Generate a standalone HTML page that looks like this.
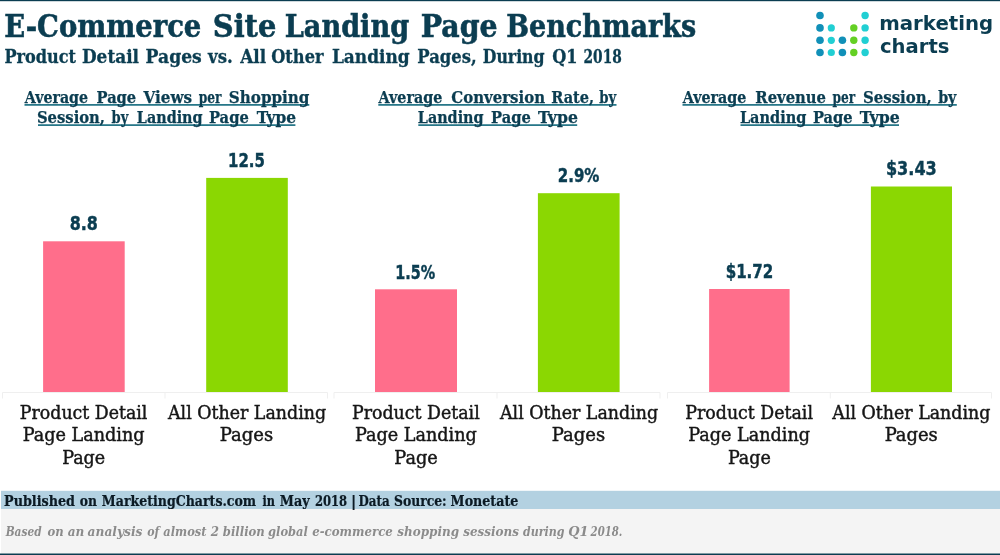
<!DOCTYPE html>
<html lang="en">
<head>
<meta charset="utf-8">
<title>E-Commerce Site Landing Page Benchmarks</title>
<style>
html,body{margin:0;padding:0;background:#fff;}
body{width:1000px;height:555px;overflow:hidden;}
svg{display:block;}
.slab{font-family:"DejaVu Serif Condensed","DejaVu Serif","Liberation Serif",serif;font-stretch:condensed;}
.b{font-weight:bold;}
.teal{fill:#0b3d51;}
.sk1{stroke:#0b3d51;stroke-width:0.55px;}
.sk2{stroke:#0b3d51;stroke-width:0.3px;}
.sans{font-family:"DejaVu Sans","Liberation Sans",sans-serif;font-weight:bold;}
.cat{fill:#161616;stroke:#161616;stroke-width:0.4px;}
.val{font-family:"DejaVu Sans Condensed","DejaVu Sans","Liberation Sans",sans-serif;font-stretch:condensed;font-weight:bold;fill:#0b3d51;stroke:#0b3d51;stroke-width:0.4px;}
.hd{font-weight:bold;fill:#0b3d51;stroke:#0b3d51;stroke-width:0.25px;}
.ft1{fill:#0b1a24;stroke:#0b1a24;stroke-width:0.2px;}
.ft2{fill:#8b8b8b;}
</style>
</head>
<body>
<svg width="1000" height="555" viewBox="0 0 1000 555">

<rect x="0" y="0" width="1000" height="555" fill="#ffffff"/>
<rect x="0" y="0" width="1000" height="1.2" fill="#0b3d51"/>
<g id="logo">
<g fill="#1190b8">
<circle cx="820" cy="15.5" r="3.8"/><circle cx="820" cy="27.9" r="3.8"/><circle cx="820" cy="40.3" r="3.8"/><circle cx="820" cy="52.5" r="3.8"/>
<circle cx="842.4" cy="40.3" r="3.8"/><circle cx="842.4" cy="52.5" r="3.8"/>
</g>
<g fill="#21cfd3">
<circle cx="831.3" cy="27.9" r="3.6"/><circle cx="831.3" cy="40.3" r="3.6"/><circle cx="831.3" cy="52.5" r="3.6"/>
<circle cx="865.1" cy="15.5" r="3.7"/><circle cx="865.1" cy="27.9" r="3.7"/><circle cx="865.1" cy="40.3" r="3.7"/><circle cx="865.1" cy="52.5" r="3.7"/>
</g>
<g fill="#64d024">
<circle cx="853.8" cy="27.9" r="3.7"/><circle cx="853.8" cy="40.3" r="3.7"/><circle cx="853.8" cy="52.5" r="3.7"/>
</g>
</g>
<g fill="#10697c">
<rect x="24.5" y="104.1" width="284.8" height="1.6"/>
<rect x="38" y="124.3" width="257.4" height="1.6"/>
<rect x="378.3" y="104.1" width="238.2" height="1.6"/>
<rect x="418.3" y="124.3" width="158.9" height="1.6"/>
<rect x="682.5" y="104.1" width="274.3" height="1.6"/>
<rect x="740.5" y="124.3" width="158.5" height="1.6"/>
</g>
<g stroke="#efefef" stroke-width="1" fill="none">
<path d="M2.5 398.5V392.5H327.5V398.5M165 392.5V398.5"/>
<path d="M334 398.5V392.5H660V398.5M497 392.5V398.5"/>
<path d="M667.5 398.5V392.5H991.5V398.5M830.3 392.5V398.5"/>
</g>
<g fill="#ff6e8b">
<rect x="43.1" y="241.3" width="81.6" height="150.7"/>
<rect x="375" y="289.3" width="82" height="102.7"/>
<rect x="709.1" y="289" width="80.5" height="103"/>
</g>
<g fill="#8bd702">
<rect x="206.2" y="177.9" width="81.6" height="214.1"/>
<rect x="537.9" y="193.2" width="81.7" height="198.8"/>
<rect x="870.9" y="186.5" width="81.1" height="205.5"/>
</g>
<rect x="1" y="490.8" width="999" height="18.2" fill="#b3d1e1"/>
<rect x="1" y="509" width="999" height="44.6" fill="#f4f4f4"/>
<rect x="0" y="553.5" width="1000" height="1.5" fill="#0b3d51"/>
<text class="slab b teal sk1" y="37" font-size="32" ><tspan x="4.18" textLength="197.14" lengthAdjust="spacingAndGlyphs">E-Commerce</tspan> <tspan x="212.79" textLength="63.56" lengthAdjust="spacingAndGlyphs">Site</tspan> <tspan x="284.72" textLength="124.39" lengthAdjust="spacingAndGlyphs">Landing</tspan> <tspan x="420.79" textLength="76.84" lengthAdjust="spacingAndGlyphs">Page</tspan> <tspan x="506.23" textLength="189.93" lengthAdjust="spacingAndGlyphs">Benchmarks</tspan></text>
<text class="slab b teal sk2" y="63" font-size="18.7" ><tspan x="4.42" textLength="71.65" lengthAdjust="spacingAndGlyphs">Product</tspan> <tspan x="81.95" textLength="57.09" lengthAdjust="spacingAndGlyphs">Detail</tspan> <tspan x="145.64" textLength="56.15" lengthAdjust="spacingAndGlyphs">Pages</tspan> <tspan x="208.10" textLength="24.63" lengthAdjust="spacingAndGlyphs">vs.</tspan> <tspan x="240.20" textLength="25.89" lengthAdjust="spacingAndGlyphs">All</tspan> <tspan x="271.26" textLength="52.25" lengthAdjust="spacingAndGlyphs">Other</tspan> <tspan x="331.95" textLength="77.79" lengthAdjust="spacingAndGlyphs">Landing</tspan> <tspan x="417.34" textLength="59.37" lengthAdjust="spacingAndGlyphs">Pages,</tspan> <tspan x="482.74" textLength="61.83" lengthAdjust="spacingAndGlyphs">During</tspan> <tspan x="552.28" textLength="25.34" lengthAdjust="spacingAndGlyphs">Q1</tspan> <tspan x="583.54" textLength="38.23" lengthAdjust="spacingAndGlyphs">2018</tspan></text>
<text class="sans teal" x="879.15" y="30" font-size="18.8"  textLength="114.04" lengthAdjust="spacingAndGlyphs">marketing</text>
<text class="sans teal" x="880.00" y="53" font-size="18.8"  textLength="69.45" lengthAdjust="spacingAndGlyphs">charts</text>
<text class="slab hd" y="103" font-size="16.2" ><tspan x="24.84" textLength="63.20" lengthAdjust="spacingAndGlyphs">Average</tspan> <tspan x="96.55" textLength="39.64" lengthAdjust="spacingAndGlyphs">Page</tspan> <tspan x="143.54" textLength="48.52" lengthAdjust="spacingAndGlyphs">Views</tspan> <tspan x="198.78" textLength="22.79" lengthAdjust="spacingAndGlyphs">per</tspan> <tspan x="228.85" textLength="80.59" lengthAdjust="spacingAndGlyphs">Shopping</tspan></text>
<text class="slab hd" y="123" font-size="16.2" ><tspan x="36.94" textLength="68.09" lengthAdjust="spacingAndGlyphs">Session,</tspan> <tspan x="111.57" textLength="16.73" lengthAdjust="spacingAndGlyphs">by</tspan> <tspan x="136.80" textLength="65.79" lengthAdjust="spacingAndGlyphs">Landing</tspan> <tspan x="209.03" textLength="39.73" lengthAdjust="spacingAndGlyphs">Page</tspan> <tspan x="256.85" textLength="39.11" lengthAdjust="spacingAndGlyphs">Type</tspan></text>
<text class="slab hd" y="103" font-size="16.2" ><tspan x="378.58" textLength="63.77" lengthAdjust="spacingAndGlyphs">Average</tspan> <tspan x="451.33" textLength="93.68" lengthAdjust="spacingAndGlyphs">Conversion</tspan> <tspan x="551.24" textLength="42.92" lengthAdjust="spacingAndGlyphs">Rate,</tspan> <tspan x="599.15" textLength="16.97" lengthAdjust="spacingAndGlyphs">by</tspan></text>
<text class="slab hd" y="123" font-size="16.2" ><tspan x="417.79" textLength="65.81" lengthAdjust="spacingAndGlyphs">Landing</tspan> <tspan x="491.12" textLength="39.71" lengthAdjust="spacingAndGlyphs">Page</tspan> <tspan x="538.12" textLength="39.73" lengthAdjust="spacingAndGlyphs">Type</tspan></text>
<text class="slab hd" y="103" font-size="16.2" ><tspan x="682.84" textLength="63.58" lengthAdjust="spacingAndGlyphs">Average</tspan> <tspan x="755.38" textLength="70.64" lengthAdjust="spacingAndGlyphs">Revenue</tspan> <tspan x="832.61" textLength="22.67" lengthAdjust="spacingAndGlyphs">per</tspan> <tspan x="862.99" textLength="68.80" lengthAdjust="spacingAndGlyphs">Session,</tspan> <tspan x="938.15" textLength="18.26" lengthAdjust="spacingAndGlyphs">by</tspan></text>
<text class="slab hd" y="123" font-size="16.2" ><tspan x="739.91" textLength="66.42" lengthAdjust="spacingAndGlyphs">Landing</tspan> <tspan x="813.04" textLength="39.60" lengthAdjust="spacingAndGlyphs">Page</tspan> <tspan x="859.88" textLength="40.01" lengthAdjust="spacingAndGlyphs">Type</tspan></text>
<text class="slab val" x="69.73" y="230" font-size="18.8"  textLength="28.19" lengthAdjust="spacingAndGlyphs">8.8</text>
<text class="slab val" x="228.04" y="167" font-size="18.8"  textLength="36.94" lengthAdjust="spacingAndGlyphs">12.5</text>
<text class="slab val" x="395.33" y="279" font-size="18.8"  textLength="39.97" lengthAdjust="spacingAndGlyphs">1.5%</text>
<text class="slab val" x="557.71" y="182" font-size="18.8"  textLength="41.71" lengthAdjust="spacingAndGlyphs">2.9%</text>
<text class="slab val" x="725.67" y="278" font-size="18.8"  textLength="47.65" lengthAdjust="spacingAndGlyphs">$1.72</text>
<text class="slab val" x="885.92" y="175" font-size="18.8"  textLength="50.86" lengthAdjust="spacingAndGlyphs">$3.43</text>
<text class="slab cat" x="19.85" y="419" font-size="17.7"  textLength="127.52" lengthAdjust="spacingAndGlyphs">Product Detail</text>
<text class="slab cat" x="22.75" y="441" font-size="17.7"  textLength="121.84" lengthAdjust="spacingAndGlyphs">Page Landing</text>
<text class="slab cat" x="62.26" y="464" font-size="17.7"  textLength="42.92" lengthAdjust="spacingAndGlyphs">Page</text>
<text class="slab cat" x="168.05" y="419" font-size="17.7"  textLength="157.99" lengthAdjust="spacingAndGlyphs">All Other Landing</text>
<text class="slab cat" x="219.89" y="441" font-size="17.7"  textLength="53.30" lengthAdjust="spacingAndGlyphs">Pages</text>
<text class="slab cat" x="352.03" y="419" font-size="17.7"  textLength="127.71" lengthAdjust="spacingAndGlyphs">Product Detail</text>
<text class="slab cat" x="355.12" y="441" font-size="17.7"  textLength="121.75" lengthAdjust="spacingAndGlyphs">Page Landing</text>
<text class="slab cat" x="394.39" y="464" font-size="17.7"  textLength="43.34" lengthAdjust="spacingAndGlyphs">Page</text>
<text class="slab cat" x="500.05" y="419" font-size="17.7"  textLength="157.99" lengthAdjust="spacingAndGlyphs">All Other Landing</text>
<text class="slab cat" x="551.89" y="441" font-size="17.7"  textLength="53.30" lengthAdjust="spacingAndGlyphs">Pages</text>
<text class="slab cat" x="685.33" y="419" font-size="17.7"  textLength="127.65" lengthAdjust="spacingAndGlyphs">Product Detail</text>
<text class="slab cat" x="688.35" y="441" font-size="17.7"  textLength="121.65" lengthAdjust="spacingAndGlyphs">Page Landing</text>
<text class="slab cat" x="727.92" y="464" font-size="17.7"  textLength="42.89" lengthAdjust="spacingAndGlyphs">Page</text>
<text class="slab cat" x="832.38" y="419" font-size="17.7"  textLength="157.98" lengthAdjust="spacingAndGlyphs">All Other Landing</text>
<text class="slab cat" x="884.71" y="441" font-size="17.7"  textLength="53.11" lengthAdjust="spacingAndGlyphs">Pages</text>
<text class="slab b ft1" y="506" font-size="14" ><tspan x="4.05" textLength="70.97" lengthAdjust="spacingAndGlyphs">Published</tspan> <tspan x="79.84" textLength="17.20" lengthAdjust="spacingAndGlyphs">on</tspan> <tspan x="101.83" textLength="154.32" lengthAdjust="spacingAndGlyphs">MarketingCharts.com</tspan> <tspan x="262.50" textLength="12.49" lengthAdjust="spacingAndGlyphs">in</tspan> <tspan x="279.84" textLength="29.88" lengthAdjust="spacingAndGlyphs">May</tspan> <tspan x="314.94" textLength="32.21" lengthAdjust="spacingAndGlyphs">2018</tspan> <tspan x="350.93" textLength="5.27" lengthAdjust="spacingAndGlyphs">|</tspan> <tspan x="358.50" textLength="31.31" lengthAdjust="spacingAndGlyphs">Data</tspan> <tspan x="393.96" textLength="52.74" lengthAdjust="spacingAndGlyphs">Source:</tspan> <tspan x="450.64" textLength="67.72" lengthAdjust="spacingAndGlyphs">Monetate</tspan></text>
<text class="slab b ft2" y="536" font-size="12.5" font-style="italic"><tspan x="5.63" textLength="35.99" lengthAdjust="spacingAndGlyphs">Based</tspan> <tspan x="47.49" textLength="16.13" lengthAdjust="spacingAndGlyphs">on</tspan> <tspan x="67.80" textLength="16.58" lengthAdjust="spacingAndGlyphs">an</tspan> <tspan x="87.64" textLength="54.84" lengthAdjust="spacingAndGlyphs">analysis</tspan> <tspan x="147.20" textLength="12.07" lengthAdjust="spacingAndGlyphs">of</tspan> <tspan x="163.27" textLength="43.25" lengthAdjust="spacingAndGlyphs">almost</tspan> <tspan x="210.72" textLength="8.24" lengthAdjust="spacingAndGlyphs">2</tspan> <tspan x="222.86" textLength="41.87" lengthAdjust="spacingAndGlyphs">billion</tspan> <tspan x="268.13" textLength="39.73" lengthAdjust="spacingAndGlyphs">global</tspan> <tspan x="312.24" textLength="80.58" lengthAdjust="spacingAndGlyphs">e-commerce</tspan> <tspan x="397.36" textLength="61.72" lengthAdjust="spacingAndGlyphs">shopping</tspan> <tspan x="463.28" textLength="55.75" lengthAdjust="spacingAndGlyphs">sessions</tspan> <tspan x="523.11" textLength="41.38" lengthAdjust="spacingAndGlyphs">during</tspan> <tspan x="568.19" textLength="20.24" lengthAdjust="spacingAndGlyphs">Q1</tspan> <tspan x="590.58" textLength="31.78" lengthAdjust="spacingAndGlyphs">2018.</tspan></text>
</svg>
</body>
</html>
